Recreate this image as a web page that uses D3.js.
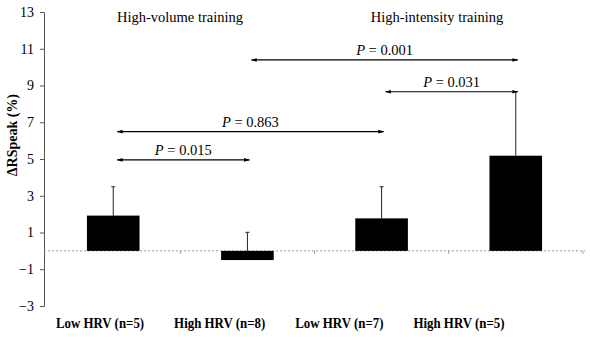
<!DOCTYPE html>
<html>
<head>
<meta charset="utf-8">
<script src="https://cdn.jsdelivr.net/npm/d3@7.9.0/dist/d3.min.js"></script>
<style>
  body { margin: 0; background: #fff; }
  svg { font-family: "Liberation Serif", "Times New Roman", serif; }
</style>
</head>
<body>
<svg id="chart" width="590" height="340"></svg>
<script>
// data
const groups = ['Low HRV (n=5)', 'High HRV (n=8)', 'Low HRV (n=7)', 'High HRV (n=5)']
const means = [1.92, -0.5, 1.77, 5.18]
const sdUpper = [3.49, 1.01, 3.49, 8.66]
const yTicks = [-3, -1, 1, 3, 5, 7, 9, 11, 13]
const trainingTitles = ['High-volume training', 'High-intensity training']

// comparisons between groups
const compFrom = [0, 0, 1, 2]
const compTo = [1, 2, 3, 3]
const compLevel = [4.95, 6.49, 10.39, 8.66]
const compP = ['0.015', '0.863', '0.001', '0.031']

const svg = d3.select('#chart')

let x = d3.scaleBand().domain(groups).range([44, 585]).paddingInner(0.608).paddingOuter(0.32)
let y = d3.scaleLinear().domain([-3, 13]).range([306, 12])
let labelX = d3.scalePoint().domain(groups).range([100, 459])
let titleX = d3.scalePoint().domain(trainingTitles).range([180, 437])

// arrow heads
const defs = svg.append('defs')
defs.append('marker').attr('id', 'head')
    .attr('viewBox', '0 0 10 10').attr('refX', 9).attr('refY', 5)
    .attr('markerWidth', 5).attr('markerHeight', 5).attr('orient', 'auto-start-reverse')
    .append('path').attr('d', 'M0,2 L10,5 L0,8 Z').attr('fill', '#000')

// y axis
let yAxis = d3.axisLeft(y).tickValues(yTicks).tickSize(4).tickPadding(6)
let gy = svg.append('g').attr('transform', 'translate(44,0)').call(yAxis)
gy.select('.domain').attr('stroke', '#555')
gy.selectAll('.tick line').attr('stroke', '#555')
gy.selectAll('text').attr('font-size', 14).attr('fill', '#000')
    .attr('font-family', '"Liberation Serif", serif')

// zero line (dashed) with category tick marks
svg.append('line')
    .attr('x1', 44).attr('x2', 585)
    .attr('y1', y(0)).attr('y2', y(0))
    .attr('stroke', '#999').attr('stroke-dasharray', '2,2')

groups.forEach((g, i) => {
    let bx = x(g) + x.bandwidth() / 2 + x.step() / 2
    svg.append('line')
        .attr('x1', bx).attr('x2', bx)
        .attr('y1', y(0)).attr('y2', y(0) + 3)
        .attr('stroke', '#999')
})

// error bars (drawn first, bars cover the lower part)
groups.forEach((g, i) => {
    let cx = x(g) + x.bandwidth() / 2
    svg.append('line')
        .attr('x1', cx).attr('x2', cx)
        .attr('y1', y(Math.max(means[i], 0))).attr('y2', y(sdUpper[i]))
        .attr('stroke', '#222').attr('stroke-width', 1)
    svg.append('line')
        .attr('x1', cx - 2).attr('x2', cx + 2)
        .attr('y1', y(sdUpper[i])).attr('y2', y(sdUpper[i]))
        .attr('stroke', '#222').attr('stroke-width', 1)
})

// bars
svg.selectAll('rect.bar')
    .data(groups)
    .join('rect')
    .attr('class', 'bar')
    .attr('x', d => x(d))
    .attr('width', x.bandwidth())
    .attr('y', (d, i) => y(Math.max(means[i], 0)))
    .attr('height', (d, i) => Math.abs(y(means[i]) - y(0)))
    .attr('fill', '#000')

// group labels under the chart (narrow bold face like the original)
svg.selectAll('text.xlab')
    .data(groups)
    .join('text')
    .attr('class', 'xlab')
    .attr('transform', d => `translate(${labelX(d)},328) scale(0.86,1)`)
    .attr('text-anchor', 'middle')
    .attr('font-size', 15)
    .attr('font-weight', 'bold')
    .text(d => d)

// training titles
svg.selectAll('text.title')
    .data(trainingTitles)
    .join('text')
    .attr('class', 'title')
    .attr('x', d => titleX(d))
    .attr('y', 22)
    .attr('text-anchor', 'middle')
    .attr('font-size', 14.5)
    .text(d => d)

// y label
svg.append('text')
    .attr('transform', `translate(17,${y(6.3)}) rotate(-90)`)
    .attr('text-anchor', 'middle')
    .attr('font-size', 14)
    .attr('font-weight', 'bold')
    .text('ΔRSpeak (%)')

// comparison arrows
compP.forEach((p, i) => {
    let x1 = x(groups[compFrom[i]]) + x.bandwidth() / 2 + 4
    let x2 = x(groups[compTo[i]]) + x.bandwidth() / 2 + 2
    let yy = y(compLevel[i])
    svg.append('line')
        .attr('x1', x1).attr('x2', x2)
        .attr('y1', yy).attr('y2', yy)
        .attr('stroke', '#000').attr('stroke-width', 1.2)
        .attr('marker-start', 'url(#head)')
        .attr('marker-end', 'url(#head)')
    let t = svg.append('text')
        .attr('x', (x1 + x2) / 2)
        .attr('y', yy - 5)
        .attr('text-anchor', 'middle')
        .attr('font-size', 14.5)
    t.append('tspan').attr('font-style', 'italic').text('P')
    t.append('tspan').text(' = ' + p)
})
</script>
</body>
</html>
